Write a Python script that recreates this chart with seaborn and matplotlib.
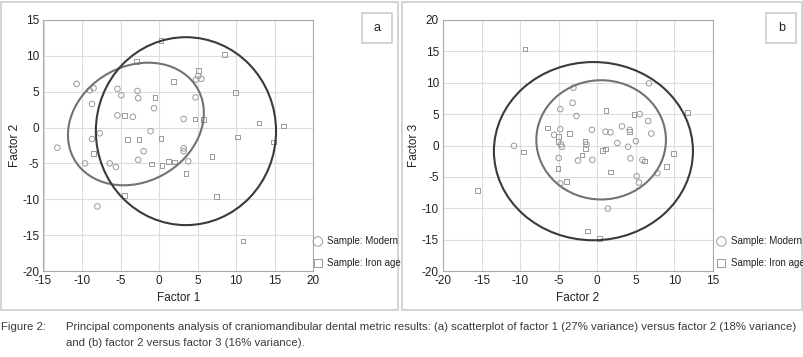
import numpy as np
import pandas as pd
import seaborn as sns
import matplotlib.pyplot as plt
from matplotlib.patches import Ellipse, Rectangle

# panel a - factor 1 vs factor 2
modern_a_x = [-10.7, -9.0, -8.5, -8.7, -5.4, -4.9, -2.8, -2.7, -5.4, -3.4, -0.65, 5.1, 5.5, 4.8,
              4.75, 3.2, -8.7, -7.7, -13.2, -1.1, -2.0, 3.2, 3.2, -9.6, -6.4, -5.6, -2.7, 3.8, -8.0]
modern_a_y = [6.1, 5.2, 5.5, 3.3, 5.4, 4.5, 5.1, 4.1, 1.7, 1.5, 2.7, 7.2, 6.8, 6.7,
              4.2, 1.2, -1.6, -0.8, -2.8, -0.5, -3.3, -2.9, -3.3, -5.0, -5.0, -5.5, -4.5, -4.7, -11.0]
iron_a_x = [0.25, -2.9, 5.1, 8.5, 1.9, -0.5, 9.9, -4.5, 4.7, 5.8, 13.0, 16.2, -4.1, -2.6,
            0.25, 10.2, 14.9, -8.5, 6.9, -0.95, 0.4, 1.2, 2.0, 3.5, -4.5, 7.5, 10.9]
iron_a_y = [12.1, 9.2, 8.0, 10.2, 6.4, 4.2, 4.9, 1.65, 1.2, 1.1, 0.66, 0.24, -1.65, -1.65,
            -1.55, -1.3, -2.0, -3.6, -4.0, -5.1, -5.3, -4.7, -4.8, -6.4, -9.5, -9.6, -15.8]

# panel b - factor 2 vs factor 3
modern_b_x = [-3.1, -3.2, 6.7, -4.8, 5.5, -2.7, 6.6, -4.8, 3.2, -0.7, 1.07, 1.7, 4.2, 7.0, -5.6, -4.7,
              -4.6, 2.6, 5.0, -10.8, -1.4, 4.0, -5.0, -2.5, -0.64, 4.3, 5.85, 5.1, 7.8, 5.4, -4.8, 1.37]
modern_b_y = [9.2, 6.8, 9.9, 5.8, 5.0, 4.7, 3.9, 2.6, 3.05, 2.5, 2.2, 2.1, 2.5, 1.9, 1.7, 0.2,
              -0.2, 0.4, 0.7, -0.05, 0.15, -0.2, -2.0, -2.4, -2.3, -2.05, -2.3, -4.9, -4.4, -5.9, -6.05, -10.05]
iron_b_x = [-9.36, 11.7, 1.15, 4.74, -6.45, -5.0, -3.6, -5.1, 4.15, -1.6, -9.6, -1.5, -1.97, 0.64,
            1.07, 9.9, 6.1, -5.1, 1.7, 9.0, -4.0, -15.5, -1.3, 0.26]
iron_b_y = [15.4, 5.3, 5.6, 4.9, 2.8, 1.4, 1.9, 0.6, 2.2, 0.6, -1.05, -0.5, -1.5, -0.84,
            -0.53, -1.3, -2.5, -3.7, -4.2, -3.3, -5.7, -7.2, -13.6, -14.8]

# ellipses: centre x, centre y, width, height, angle
ell_a_modern = [-3.0, 0.5, 18.9, 15.7, 40]
ell_a_iron = [3.5, -0.5, 23.4, 26.2, 0]
ell_b_modern = [0.5, 0.9, 16.8, 19.0, 0]
ell_b_iron = [-0.5, -0.9, 25.8, 28.4, 0]

sns.set_style("white")
plt.rcParams['font.family'] = ['Liberation Sans', 'DejaVu Sans']
plt.rcParams['axes.unicode_minus'] = False

df_a = pd.concat([pd.DataFrame({'x': modern_a_x, 'y': modern_a_y, 'Sample': 'Modern'}),
                  pd.DataFrame({'x': iron_a_x, 'y': iron_a_y, 'Sample': 'Iron age'})])
df_b = pd.concat([pd.DataFrame({'x': modern_b_x, 'y': modern_b_y, 'Sample': 'Modern'}),
                  pd.DataFrame({'x': iron_b_x, 'y': iron_b_y, 'Sample': 'Iron age'})])

W, H = 804, 357
fig = plt.figure(figsize=(8.04, 3.57), dpi=100)


def fig_rect(x0, y0, x1, y1):
    # rectangle given in pixels from the top-left corner
    fig.patches.append(Rectangle((x0 / W, 1 - y1 / H), (x1 - x0) / W, (y1 - y0) / H,
                                 transform=fig.transFigure, fill=False, edgecolor='#cccccc', lw=1.2))


# panel frames
fig_rect(1.5, 1.5, 398, 310)
fig_rect(402, 1.5, 802, 310)


def draw_panel(ax, df, ells, xlim, ylim, xlabel, ylabel, letter, leg_x, box_x):
    for lab, mk, size in [('Modern', 'o', 16), ('Iron age', 's', 11)]:
        d = df[df['Sample'] == lab]
        sns.scatterplot(data=d, x='x', y='y', marker=mk, s=size, facecolors='none',
                        edgecolors='#9a9a9a', linewidth=0.7, ax=ax, label='Sample: ' + lab, legend=False)
    for e, col in zip(ells, ['#727272', '#3a3a3a']):
        ax.add_patch(Ellipse((e[0], e[1]), e[2], e[3], angle=e[4], fill=False,
                             edgecolor=col, lw=1.5))
    ax.set_xlim(xlim)
    ax.set_ylim(ylim)
    ax.set_xticks(np.arange(xlim[0], xlim[1] + 1, 5))
    ax.set_yticks(np.arange(ylim[0], ylim[1] + 1, 5))
    ax.grid(True, color='#dddddd', lw=0.8)
    ax.set_axisbelow(True)
    for s in ax.spines.values():
        s.set_color('#aaaaaa')
        s.set_linewidth(0.8)
    ax.tick_params(length=0, labelsize=8.5, colors='#222222', pad=3)
    ax.set_xlabel(xlabel, fontsize=8.5, color='#222222')
    ax.set_ylabel(ylabel, fontsize=8.5, color='#222222')
    ax.xaxis.set_label_coords(0.5, -0.085)
    ax.yaxis.set_label_coords(-0.085, 0.5)
    h, l = ax.get_legend_handles_labels()
    fig.legend(h, l, loc='upper left', bbox_to_anchor=(leg_x / W, 1 - 236 / H), frameon=False,
               fontsize=7.0, handletextpad=0.5, labelspacing=1.2, borderaxespad=0, borderpad=0,
               handlelength=0.9, markerscale=1.7, labelcolor='#222222')
    fig_rect(box_x, 13.5, box_x + 30, 42.5)
    fig.text((box_x + 15) / W, 1 - 28 / H, letter, ha='center', va='center', fontsize=9, color='#222222')


ax1 = fig.add_axes([43.5 / W, 1 - 271 / H, 269.5 / W, 251 / H])
draw_panel(ax1, df_a, [ell_a_modern, ell_a_iron], (-15, 20), (-20, 15), 'Factor 1', 'Factor 2', 'a', 313.5, 362.5)

ax2 = fig.add_axes([443 / W, 1 - 271 / H, 270 / W, 251 / H])
draw_panel(ax2, df_b, [ell_b_modern, ell_b_iron], (-20, 15), (-20, 20), 'Factor 2', 'Factor 3', 'b', 717, 766.5)

cap = dict(fontsize=8.2, color='#3a3a3a', va='center')
fig.text(1 / W, 1 - 327 / H, 'Figure 2:', **cap)
fig.text(66 / W, 1 - 327 / H,
         'Principal components analysis of craniomandibular dental metric results: (a) scatterplot of '
         'factor 1 (27% variance) versus factor 2 (18% variance)', **cap)
fig.text(66 / W, 1 - 343 / H, 'and (b) factor 2 versus factor 3 (16% variance).', **cap)

fig.savefig('out.png', dpi=100)
